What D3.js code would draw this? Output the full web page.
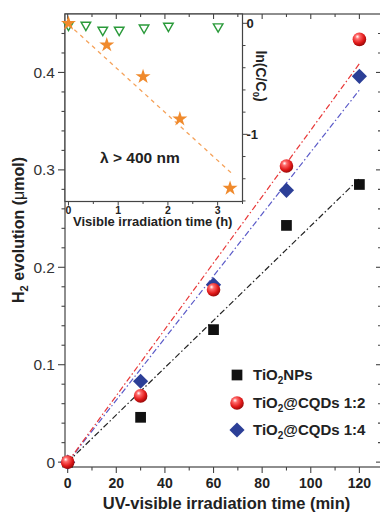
<!DOCTYPE html>
<html lang="en">
<head>
<meta charset="UTF-8">
<title>H2 evolution</title>
<script src="https://d3js.org/d3.v7.min.js"></script>
<style>
  html, body { margin: 0; padding: 0; background: #fff; }
  svg { display: block; font-family: "Liberation Sans", Arial, sans-serif; }
</style>
</head>
<body>
<div id="chart"></div>
<script>
// main plot data (UV-visible, min -> umol)
const uvTime = [0, 30, 60, 90, 120];
const tio2NPs = [0, 0.046, 0.136, 0.243, 0.285];
const cqd12 = [0, 0.068, 0.177, 0.304, 0.434];
const cqd14 = [0, 0.083, 0.182, 0.279, 0.396];

// linear fits through origin
const fitTime = [0, 120];
const fitNPs = [0, 0.291];
const fitCqd12 = [0, 0.409];
const fitCqd14 = [0, 0.382];

// inset data (visible, h -> ln(C/C0))
const starTime = [0, 0.77, 1.5, 2.24, 3.25];
const starLn = [0, -0.195, -0.48, -0.862, -1.486];
const triTime = [0, 0.35, 0.69, 1.02, 1.52, 2.01, 3.01];
const triLn = [-0.015, -0.015, -0.06, -0.06, -0.04, -0.024, -0.03];
const starFitTime = [0, 3.3];
const starFitLn = [-0.0085, -1.358];

const xTicks = [0, 20, 40, 60, 80, 100, 120];
const yTicks = [0, 0.1, 0.2, 0.3, 0.4];
const insetXTicks = [0, 1, 2, 3];
const insetYTicks = [0, -1];

const legendLabels = [
  { main: "TiO", sub: "2", rest: "NPs" },
  { main: "TiO", sub: "2", rest: "@CQDs 1:2" },
  { main: "TiO", sub: "2", rest: "@CQDs 1:4" }
];

const W = 380, H = 514;
const frame = { left: 65, right: 382, top: 14, bottom: 467 };
const inset = { left: 65, right: 242.5, top: 14, bottom: 201.5 };

const svg = d3.select('#chart').append('svg')
  .attr('width', W).attr('height', H);

const defs = svg.append('defs');
const grad = defs.append('radialGradient')
  .attr('id', 'sphere').attr('cx', '0.4').attr('cy', '0.35').attr('r', '0.65')
  .attr('fx', '0.35').attr('fy', '0.3');
grad.append('stop').attr('offset', '0%').attr('stop-color', '#ffffff');
grad.append('stop').attr('offset', '25%').attr('stop-color', '#ff6a6a');
grad.append('stop').attr('offset', '70%').attr('stop-color', '#e01818');
grad.append('stop').attr('offset', '100%').attr('stop-color', '#9a0a0a');

const x = d3.scaleLinear().domain([-1.1, 129.3]).range([frame.left, frame.right]);
const y = d3.scaleLinear().domain([-0.005, 0.46]).range([frame.bottom, frame.top]);

const axisColor = '#444';

// frame
svg.append('rect')
  .attr('x', frame.left).attr('y', frame.top)
  .attr('width', frame.right - frame.left).attr('height', frame.bottom - frame.top)
  .attr('fill', 'none').attr('stroke', axisColor).attr('stroke-width', 1.2);

// bottom axis
const xMinor = d3.range(0, 130, 10);
const xAxis = svg.append('g').attr('transform', `translate(0,${frame.bottom})`);
xAxis.selectAll('line').data(xMinor).enter().append('line')
  .attr('x1', d => x(d)).attr('x2', d => x(d))
  .attr('y1', 0).attr('y2', d => d % 20 === 0 ? 6 : 3.5)
  .attr('stroke', axisColor).attr('stroke-width', 1.1);
xAxis.selectAll('text').data(xTicks).enter().append('text')
  .attr('x', d => x(d)).attr('y', 21)
  .attr('text-anchor', 'middle').attr('font-size', 14).attr('font-weight', 'bold')
  .attr('fill', '#222').text(d => d);

// top ticks (inward)
svg.append('g').selectAll('line').data(xMinor).enter().append('line')
  .attr('x1', d => x(d)).attr('x2', d => x(d))
  .attr('y1', frame.top).attr('y2', d => frame.top + (d % 20 === 0 ? 5 : 3))
  .attr('stroke', axisColor).attr('stroke-width', 1.1);

// left axis
const yMinor = d3.range(0, 23).map(i => i * 0.02);
const yAxis = svg.append('g');
yAxis.selectAll('line').data(yMinor).enter().append('line')
  .attr('x1', frame.left).attr('x2', (d, i) => frame.left - (i % 5 === 0 ? 7 : 3.5))
  .attr('y1', d => y(d)).attr('y2', d => y(d))
  .attr('stroke', axisColor).attr('stroke-width', 1.1);
yAxis.selectAll('text').data(yTicks).enter().append('text')
  .attr('x', frame.left - 10).attr('y', d => y(d)).attr('dy', '0.35em')
  .attr('text-anchor', 'end').attr('font-size', 15.5)
  .attr('fill', '#333').text(d => d === 0 ? '0' : d3.format('.1f')(d));

// right ticks (inward)
svg.append('g').selectAll('line').data(yMinor).enter().append('line')
  .attr('x1', 380).attr('x2', (d, i) => 380 - (i % 5 === 0 ? 4 : 2))
  .attr('y1', d => y(d)).attr('y2', d => y(d))
  .attr('stroke', axisColor).attr('stroke-width', 1.1);

// axis titles
svg.append('text')
  .attr('x', (frame.left + frame.right) / 2 + 3).attr('y', 509)
  .attr('text-anchor', 'middle').attr('font-size', 16.5).attr('font-weight', 'bold')
  .attr('fill', '#222').text('UV-visible irradiation time (min)');

const yTitle = svg.append('text')
  .attr('transform', 'translate(24,230) rotate(-90)')
  .attr('text-anchor', 'middle').attr('font-size', 16).attr('font-weight', 'bold')
  .attr('fill', '#222');
yTitle.append('tspan').text('H');
yTitle.append('tspan').attr('font-size', 11).attr('dy', 4).text('2');
yTitle.append('tspan').attr('dy', -4).text(' evolution (');
yTitle.append('tspan').attr('font-weight', 'normal').text('\u03bc');
yTitle.append('tspan').text('mol)');

// fit lines
const fitLine = d3.line().x(d => x(d[0])).y(d => y(d[1]));
const fits = [
  { v: fitNPs, color: '#222' },
  { v: fitCqd14, color: '#5a5ac8' },
  { v: fitCqd12, color: '#e83838' }
];
fits.forEach(f => {
  svg.append('path')
    .attr('d', fitLine(d3.zip(fitTime, f.v)))
    .attr('fill', 'none').attr('stroke', f.color).attr('stroke-width', 1.2)
    .attr('stroke-dasharray', '6,2.5,1.5,2.5');
});

// points
const sq = d3.symbol().type(d3.symbolSquare).size(115);
svg.append('g').selectAll('path').data(d3.zip(uvTime, tio2NPs)).enter().append('path')
  .attr('d', sq).attr('transform', d => `translate(${x(d[0])},${y(d[1])})`)
  .attr('fill', '#111');
svg.append('g').selectAll('path').data(d3.zip(uvTime, cqd14)).enter().append('path')
  .attr('d', sq).attr('transform', d => `translate(${x(d[0])},${y(d[1])}) rotate(45)`)
  .attr('fill', '#2c3f97');
svg.append('g').selectAll('circle').data(d3.zip(uvTime, cqd12)).enter().append('circle')
  .attr('cx', d => x(d[0])).attr('cy', d => y(d[1])).attr('r', 6.8)
  .attr('fill', 'url(#sphere)');

// legend
const legend = svg.append('g');
const legendY = [375, 403, 430];
legendLabels.forEach((lab, i) => {
  const g = legend.append('g').attr('transform', `translate(237,${legendY[i]})`);
  if (i === 0) g.append('path').attr('d', sq).attr('fill', '#111');
  if (i === 1) g.append('circle').attr('r', 6.8).attr('fill', 'url(#sphere)');
  if (i === 2) g.append('path').attr('d', sq).attr('transform', 'rotate(45)').attr('fill', '#2c3f97');
  const t = g.append('text').attr('x', 16).attr('dy', '0.35em')
    .attr('font-size', 15).attr('font-weight', 'bold').attr('fill', '#222');
  t.append('tspan').text(lab.main);
  t.append('tspan').attr('font-size', 10).attr('dy', 4).text(lab.sub);
  t.append('tspan').attr('dy', -4).text(lab.rest);
});

// ---- inset ----
const ix = d3.scaleLinear().domain([-0.07, 3.5]).range([inset.left, inset.right]);
const iy = d3.scaleLinear().domain([-1.605, 0.084]).range([inset.bottom, inset.top]);

svg.append('rect')
  .attr('x', inset.left).attr('y', inset.top)
  .attr('width', inset.right - inset.left).attr('height', inset.bottom - inset.top)
  .attr('fill', '#fff').attr('stroke', axisColor).attr('stroke-width', 1.2);

// top ticks again over the inset area
svg.append('g').selectAll('line').data(xMinor.filter(d => x(d) < inset.right)).enter().append('line')
  .attr('x1', d => x(d)).attr('x2', d => x(d))
  .attr('y1', frame.top).attr('y2', d => frame.top + (d % 20 === 0 ? 5 : 3))
  .attr('stroke', axisColor).attr('stroke-width', 1.1);

// inset bottom axis (outward)
const ixMinor = d3.range(0, 3.6, 0.5);
const iAxis = svg.append('g').attr('transform', `translate(0,${inset.bottom})`);
iAxis.selectAll('line').data(ixMinor).enter().append('line')
  .attr('x1', d => ix(d)).attr('x2', d => ix(d))
  .attr('y1', 0).attr('y2', d => d % 1 === 0 ? 4 : 2.5)
  .attr('stroke', axisColor).attr('stroke-width', 1);
iAxis.selectAll('text').data(insetXTicks).enter().append('text')
  .attr('x', d => ix(d)).attr('y', 12)
  .attr('text-anchor', 'middle').attr('font-size', 10.5).attr('font-weight', 'bold')
  .attr('fill', '#222').text(d => d);
svg.append('text')
  .attr('x', (inset.left + inset.right) / 2 - 1).attr('y', 226)
  .attr('text-anchor', 'middle').attr('font-size', 13).attr('font-weight', 'bold')
  .attr('fill', '#222').text('Visible irradiation time (h)');

// inset right axis (outward)
const iyMinor = d3.range(0, 9).map(i => -i * 0.2);
const iRight = svg.append('g').attr('transform', `translate(${inset.right},0)`);
iRight.selectAll('line').data(iyMinor).enter().append('line')
  .attr('x1', 0).attr('x2', (d, i) => i % 5 === 0 ? 5 : 3)
  .attr('y1', d => iy(d)).attr('y2', d => iy(d))
  .attr('stroke', axisColor).attr('stroke-width', 1);
iRight.selectAll('text').data(insetYTicks).enter().append('text')
  .attr('x', 4).attr('y', d => iy(d)).attr('dy', '0.35em')
  .attr('font-size', 13).attr('font-weight', 'bold')
  .attr('fill', '#222').text(d => d === 0 ? '0' : '-1');

const lnLabel = svg.append('text')
  .attr('transform', 'translate(256,76) rotate(90)')
  .attr('text-anchor', 'middle').attr('font-size', 14).attr('font-weight', 'bold')
  .attr('fill', '#222');
lnLabel.append('tspan').text('ln(C/C');
lnLabel.append('tspan').attr('font-size', 9.5).attr('dy', 3).text('0');
lnLabel.append('tspan').attr('dy', -3).text(')');

// inset fit line
svg.append('path')
  .attr('d', d3.line().x(d => ix(d[0])).y(d => iy(d[1]))(d3.zip(starFitTime, starFitLn)))
  .attr('fill', 'none').attr('stroke', '#f5a25a').attr('stroke-width', 1.3)
  .attr('stroke-dasharray', '4,4');

// triangles (hollow, pointing down)
const tri = d3.symbol().type(d3.symbolTriangle).size(40);
svg.append('g').selectAll('path').data(d3.zip(triTime, triLn)).enter().append('path')
  .attr('d', tri).attr('transform', d => `translate(${ix(d[0])},${iy(d[1])}) rotate(180)`)
  .attr('fill', 'none').attr('stroke', '#2a9a3a').attr('stroke-width', 1.4);

// stars
const star = d3.symbol().type(d3.symbolStar).size(70);
svg.append('g').selectAll('path').data(d3.zip(starTime, starLn)).enter().append('path')
  .attr('d', star).attr('transform', d => `translate(${ix(d[0])},${iy(d[1])})`)
  .attr('fill', '#f08a2c');

svg.append('text')
  .attr('x', 100).attr('y', 163)
  .attr('font-size', 15.5).attr('font-weight', 'bold').attr('fill', '#222')
  .text('\u03bb > 400 nm');
</script>
</body>
</html>
